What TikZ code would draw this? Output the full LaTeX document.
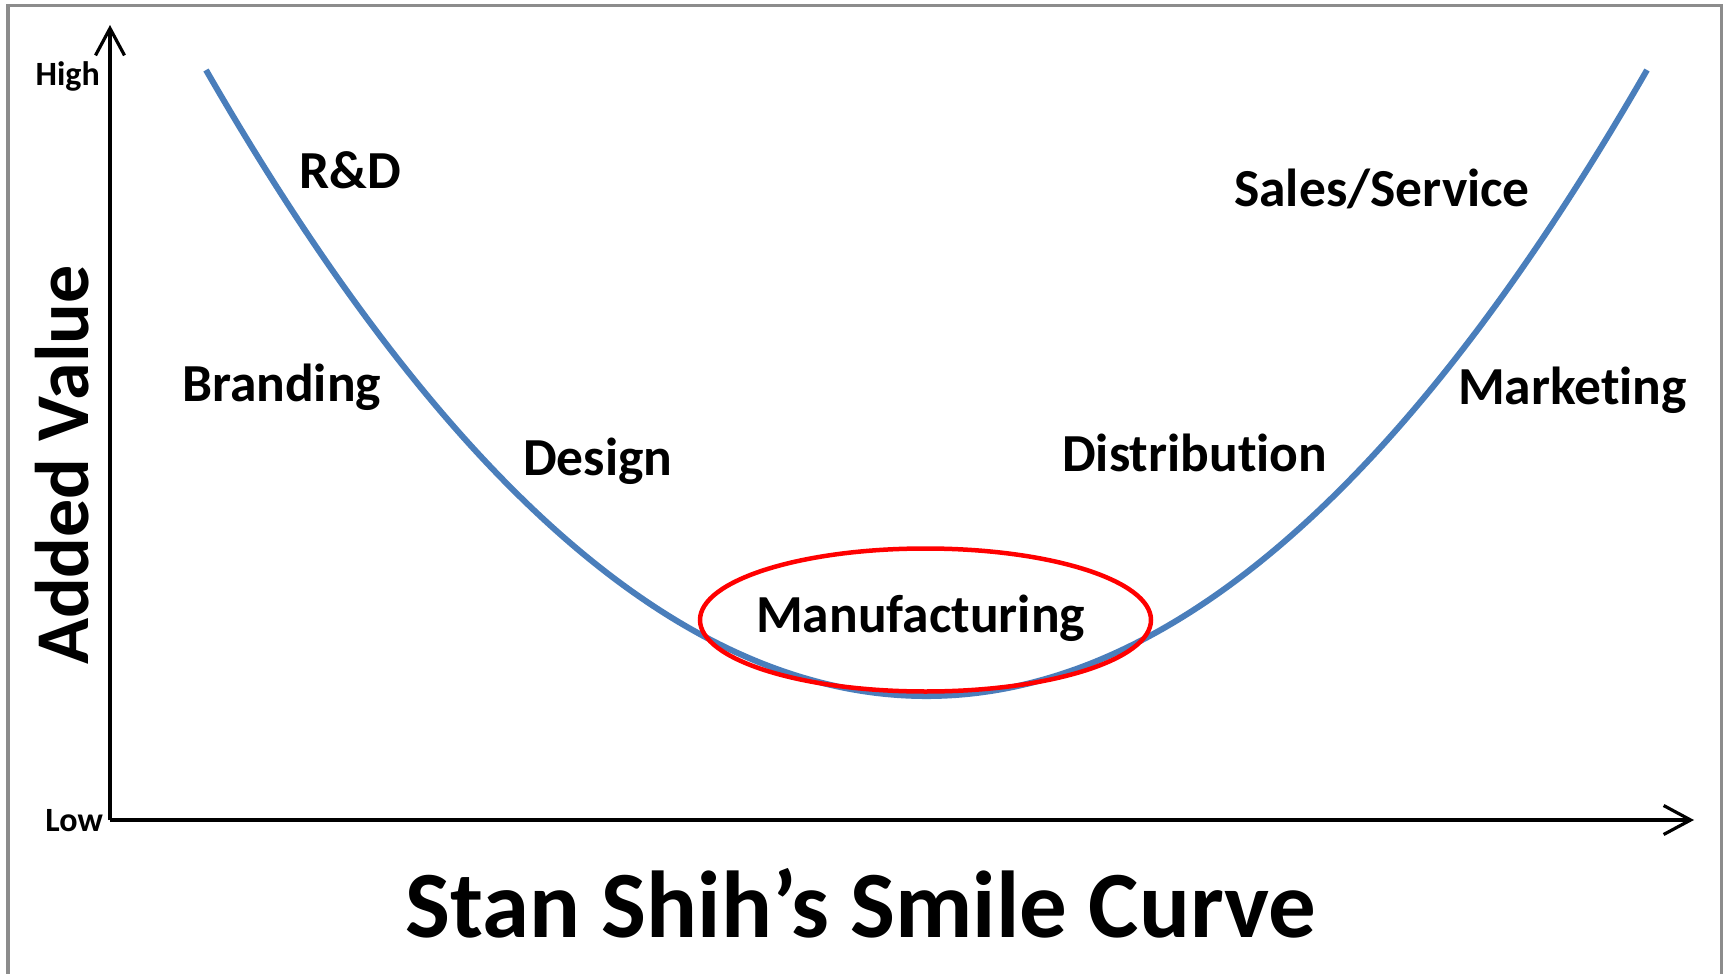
\documentclass[tikz,border=0pt]{standalone}
\usepackage{fontspec}
\setmainfont{Carlito}[Ligatures=NoCommon]
\usetikzlibrary{arrows.meta,shapes.geometric}

\definecolor{framegray}{HTML}{8C8C8C}
\definecolor{curveblue}{HTML}{4A7EBB}
\definecolor{ringred}{HTML}{FF0000}

\tikzset{
  axisline/.style={line width=3.2pt, black,
    -{Straight Barb[length=27pt, width=29pt, line width=3.2pt]}},
  stagelabel/.style={inner sep=0pt, anchor=base west,
    font=\bfseries\fontsize{53.5}{64}\selectfont},
  ticklabel/.style={inner sep=0pt, anchor=base east,
    font=\bfseries\fontsize{34}{40}\selectfont},
}

\begin{document}
\begin{tikzpicture}[x=1pt, y=-1pt]
  \useasboundingbox (0,0) rectangle (1725,974);
  \clip (0,0) rectangle (1725,974);

  % outer frame (its lower edge runs below the page)
  \draw[framegray, line width=3.5pt] (8,5.5) rectangle (1721.5,1000);

  % axes
  \coordinate (origin) at (110,820);
  \coordinate (ytop) at (110,25);
  \coordinate (xend) at (1694,820);
  \draw[axisline] (origin) -- (ytop);
  \draw[axisline] (origin) -- (xend);

  \node[ticklabel] (high) at (100,85) {High};
  \node[ticklabel] (low) at (103,831) {Low};

  \node[inner sep=0pt, anchor=base, rotate=90,
        font=\bfseries\fontsize{76}{84}\selectfont] (yaxis) at (88,465) {Added Value};

  % the smile curve: a parabola with its vertex at (926.5,696)
  \coordinate (cstart) at (206,70);
  \coordinate (cend) at (1647,70);
  \draw[curveblue, line width=6pt]
    (cstart) .. controls (686.3,904.7) and (1166.7,904.7) .. (cend);

  % highlighted stage
  \node[draw=ringred, line width=4.5pt, ellipse, minimum width=451pt,
        minimum height=143pt, inner sep=0pt] (ring) at (925.5,620) {};
  \node[stagelabel] (manuf) at (756,632) {Manufacturing};

  % stages along the curve
  \node[stagelabel] (rd) at (299,188) {R\&D};
  \node[stagelabel] (brand) at (182,401) {Branding};
  \node[stagelabel] (design) at (523,475) {Design};
  \node[stagelabel] (sales) at (1234,206) {Sales/Service};
  \node[stagelabel] (market) at (1458,404) {Marketing};
  \node[stagelabel] (distrib) at (1062,471) {Distribution};

  % title
  \node[inner sep=0pt, anchor=base, font=\bfseries\fontsize{95}{110}\selectfont]
    (title) at (861,937) {Stan Shih’s Smile Curve};
\end{tikzpicture}
\end{document}
